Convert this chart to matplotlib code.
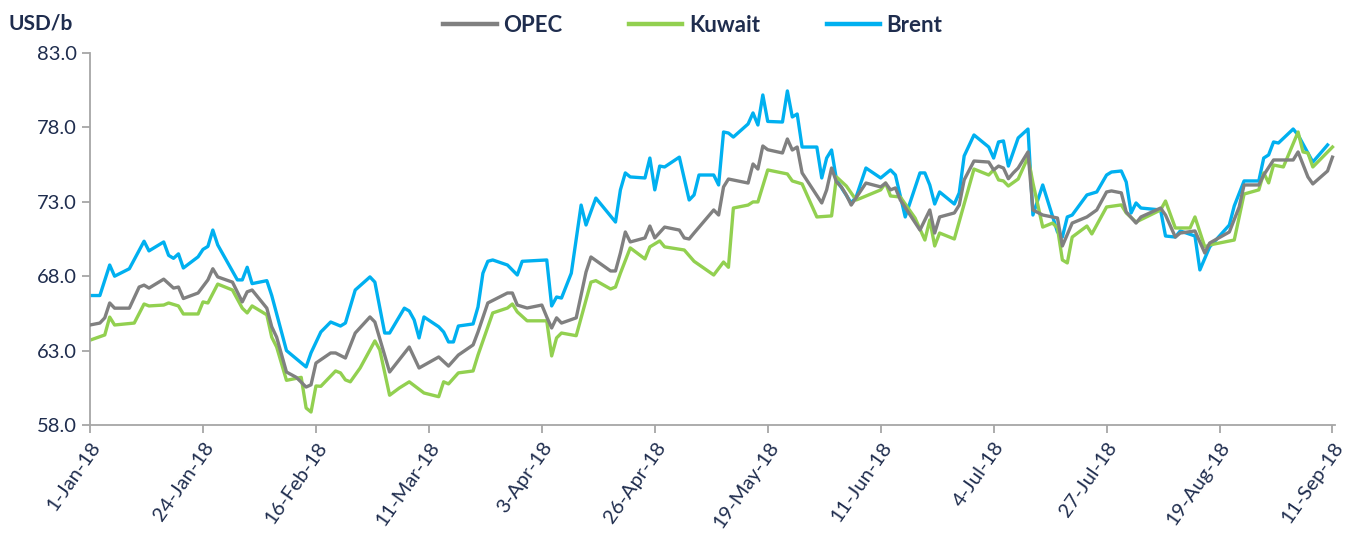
import matplotlib
matplotlib.use("Agg")
import matplotlib.pyplot as plt
import pandas as pd

# days since 1-Jan-18 and prices (USD/b)
brent_days = [0, 2, 4, 5, 8, 11, 12, 15, 16, 17, 18, 19, 22, 23, 24, 25, 26, 30, 31, 32, 33, 36, 37, 40,
              44, 45, 47, 49, 51, 52, 54, 57, 58, 60, 61, 64, 65, 66, 67, 68, 71, 72, 73, 74, 75, 78, 79,
              80, 81, 82, 85, 87, 88, 93, 94, 95, 96, 98, 100, 101, 103, 107, 108, 109, 110, 113, 114, 115,
              116, 117, 120, 122, 123, 124, 127, 128, 129, 130, 131, 134, 135, 136, 137, 138, 141, 142, 143,
              144, 145, 148, 149, 150, 151, 152, 155, 156, 158, 161, 163, 164, 166, 169, 170, 171, 172, 173,
              176, 177, 178, 180, 183, 184, 185, 186, 187, 189, 191, 192, 194, 197, 198, 199, 200, 203, 205,
              207, 208, 210, 211, 212, 213, 214, 218, 219, 221, 222, 225, 226, 228, 232, 233, 235, 238, 239,
              240, 241, 242, 245, 246, 249, 252]
brent = [66.7, 66.7, 68.75, 68.0, 68.5, 70.35, 69.7, 70.3, 69.4, 69.2, 69.5, 68.55, 69.3, 69.8, 70.0, 71.1,
         70.1, 67.75, 67.75, 68.6, 67.5, 67.7, 66.7, 63.0, 61.9, 62.85, 64.25, 64.92, 64.65, 64.85, 67.07,
         67.95, 67.6, 64.18, 64.18, 65.85, 65.66, 65.06, 63.85, 65.26, 64.6, 64.25, 63.58, 63.58, 64.65,
         64.79, 65.93, 68.2, 69.0, 69.09, 68.75, 68.08, 69.0, 69.09, 66.0, 66.6, 66.53, 68.2, 72.78, 71.44,
         73.25, 71.64, 73.8, 74.94, 74.67, 74.6, 75.94, 73.8, 75.4, 75.34, 76.0, 73.12, 73.46, 74.8, 74.8,
         74.13, 77.69, 77.62, 77.35, 78.23, 78.97, 78.16, 80.18, 78.4, 78.36, 80.45, 78.7, 78.9, 76.68,
         76.68, 74.6, 75.94, 76.48, 74.47, 72.92, 73.32, 75.27, 74.6, 75.14, 74.8, 71.98, 74.94, 74.94,
         74.13, 72.85, 73.66, 72.85, 73.6, 76.08, 77.49, 76.68, 75.94, 77.02, 77.09, 75.4, 77.29, 77.89,
         72.11, 74.13, 70.97, 70.63, 71.98, 72.11, 73.46, 73.66, 74.8, 75.0, 75.07, 74.33, 72.25, 72.92,
         72.58, 72.45, 70.7, 70.63, 71.04, 70.7, 68.42, 69.97, 71.44, 72.72, 74.4, 74.4, 75.94, 76.15,
         77.02, 76.95, 77.89, 77.49, 75.67, 76.82]

opec_days = [0, 2, 3, 4, 5, 8, 10, 11, 12, 15, 17, 18, 19, 22, 24, 25, 26, 29, 31, 32, 33, 36, 37, 38, 40,
             42, 44, 45, 46, 49, 50, 52, 54, 57, 58, 61, 65, 67, 71, 73, 75, 78, 79, 81, 85, 86, 87, 89, 92,
             93, 94, 95, 96, 99, 101, 102, 106, 107, 108, 109, 110, 113, 114, 115, 117, 120, 121, 122, 123,
             127, 128, 129, 130, 134, 135, 136, 137, 138, 141, 142, 143, 144, 145, 149, 150, 151, 152, 153,
             154, 155, 158, 161, 162, 163, 164, 165, 169, 171, 172, 173, 176, 177, 178, 180, 183, 184, 185,
             186, 187, 188, 189, 191, 192, 194, 197, 198, 200, 203, 205, 207, 208, 210, 211, 213, 214, 218,
             219, 221, 222, 225, 227, 228, 232, 234, 235, 238, 239, 241, 245, 246, 248, 249, 252, 253]
opec = [64.72, 64.85, 65.2, 66.2, 65.85, 65.85, 67.27, 67.4, 67.2, 67.8, 67.2, 67.27, 66.5, 66.87, 67.75,
        68.5, 67.95, 67.6, 66.27, 66.95, 67.07, 65.85, 64.6, 63.9, 61.56, 61.2, 60.55, 60.7, 62.16, 62.84,
        62.84, 62.5, 64.18, 65.26, 64.92, 61.56, 63.24, 61.83, 62.57, 61.96, 62.7, 63.38, 64.25, 66.2,
        66.87, 66.87, 66.06, 65.86, 66.06, 65.26, 64.52, 65.2, 64.85, 65.2, 68.28, 69.29, 68.35, 68.35,
        69.56, 70.97, 70.3, 70.57, 71.37, 70.57, 71.3, 71.1, 70.57, 70.5, 70.9, 72.45, 72.11, 74.0, 74.53,
        74.26, 75.54, 75.2, 76.75, 76.5, 76.28, 77.22, 76.48, 76.68, 74.94, 72.92, 73.8, 75.27, 74.33,
        74.0, 73.46, 72.78, 74.26, 74.0, 74.26, 73.8, 73.93, 73.12, 71.1, 72.45, 70.9, 71.98, 72.25, 72.78,
        74.47, 75.74, 75.67, 75.14, 75.4, 75.27, 74.55, 74.94, 75.27, 76.35, 72.45, 72.11, 71.91, 70.03,
        71.57, 71.98, 72.45, 73.66, 73.73, 73.6, 72.32, 71.57, 71.98, 72.58, 72.11, 70.63, 70.9, 71.04,
        69.56, 70.23, 70.97, 72.65, 74.13, 74.13, 74.8, 75.81, 75.81, 76.35, 74.67, 74.2, 75.07, 76.0]

kuwait_days = [0, 3, 4, 5, 9, 11, 12, 15, 16, 18, 19, 22, 23, 24, 26, 29, 31, 32, 33, 36, 37, 38, 40, 43,
               44, 45, 46, 47, 50, 51, 52, 53, 55, 58, 59, 61, 63, 65, 68, 71, 72, 73, 75, 78, 79, 82, 85,
               86, 87, 89, 93, 94, 95, 96, 99, 102, 103, 106, 107, 108, 110, 113, 114, 116, 117, 121, 123,
               127, 129, 130, 131, 134, 135, 136, 138, 142, 143, 145, 148, 151, 152, 154, 156, 157, 161,
               162, 163, 165, 168, 170, 171, 172, 173, 176, 180, 183, 184, 185, 186, 187, 189, 191, 192,
               194, 196, 197, 198, 199, 200, 203, 204, 205, 207, 210, 211, 213, 218, 219, 221, 224, 225,
               227, 228, 233, 235, 238, 239, 240, 241, 243, 246, 247, 248, 249, 253]
kuwait = [63.7, 64.05, 65.25, 64.72, 64.85, 66.13, 66.0, 66.06, 66.2, 66.0, 65.46, 65.46, 66.27, 66.2,
          67.47, 67.07, 65.85, 65.53, 66.0, 65.4, 63.9, 63.24, 61.0, 61.2, 59.14, 58.87, 60.62, 60.6,
          61.63, 61.5, 61.03, 60.9, 61.83, 63.65, 63.05, 60.0, 60.49, 60.9, 60.15, 59.9, 60.9, 60.76, 61.5,
          61.63, 62.7, 65.53, 65.86, 66.13, 65.6, 65.0, 65.0, 62.64, 63.85, 64.18, 64.0, 67.6, 67.7, 67.14,
          67.27, 68.2, 69.9, 69.16, 69.97, 70.37, 69.97, 69.76, 69.0, 68.08, 68.95, 68.6, 72.58, 72.78,
          72.99, 72.99, 75.14, 74.87, 74.4, 74.2, 71.98, 72.05, 74.67, 74.06, 73.12, 73.25, 73.8, 74.26,
          73.39, 73.32, 71.91, 70.43, 71.78, 70.03, 70.9, 70.5, 75.2, 74.8, 75.14, 74.47, 74.4, 74.06,
          74.53, 76.0, 74.27, 71.3, 71.57, 71.24, 69.09, 68.89, 70.63, 71.37, 70.84, 71.44, 72.65, 72.79,
          72.25, 71.64, 72.45, 73.05, 71.24, 71.24, 71.98, 69.97, 70.1, 70.43, 73.52, 73.8, 74.94, 74.27,
          75.47, 75.34, 77.69, 76.35, 76.28, 75.34, 76.68]

tick_days = list(range(0, 254, 23))
start = pd.Timestamp("2018-01-01")
tick_labels = [f"{d.day}-{d.strftime('%b-%y')}" for d in (start + pd.to_timedelta(tick_days, unit="D"))]
y_ticks = [58.0, 63.0, 68.0, 73.0, 78.0, 83.0]

navy = "#1F2D4E"
plt.rcParams["font.family"] = ["Lato", "DejaVu Sans"]

fig = plt.figure(figsize=(13.48, 5.48), dpi=100)
ax = fig.add_axes([0.0668, 0.2245, 0.9235, 0.6788])

ax.plot(opec_days, opec, color="#808080", lw=2.4, label="OPEC", zorder=3)
ax.plot(kuwait_days, kuwait, color="#92D050", lw=2.4, label="Kuwait", zorder=2)
ax.plot(brent_days, brent, color="#00B0F0", lw=2.4, label="Brent", zorder=1)

ax.set_xlim(0, 253.5)
ax.set_ylim(58, 83)
ax.set_yticks(y_ticks)
ax.set_yticklabels([f"{v:.1f}" for v in y_ticks])
ax.set_xticks(tick_days)
ax.set_xticklabels(tick_labels, rotation=55, ha="right", rotation_mode="anchor")

for s in ["top", "right"]:
    ax.spines[s].set_visible(False)
for s in ["left", "bottom"]:
    ax.spines[s].set_color("#A6A6A6")
    ax.spines[s].set_linewidth(1.3)
ax.tick_params(axis="both", direction="out", length=6, width=1.3, color="#A6A6A6",
               labelsize=14.5, labelcolor=navy)
ax.tick_params(axis="x", pad=4)

fig.text(0.006, 0.957, "USD/b", fontsize=15, fontweight="bold", color=navy, va="center")

handles, labels = ax.get_legend_handles_labels()
leg = fig.legend(handles, labels, loc="center", bbox_to_anchor=(0.514, 0.954), ncol=3,
                 frameon=False, handlelength=2.4, handletextpad=0.3, columnspacing=3.0,
                 prop={"weight": "bold", "size": 16})
for t in leg.get_texts():
    t.set_color(navy)
for l in leg.get_lines():
    l.set_linewidth(3.2)

fig.savefig("out.png", dpi=100)
